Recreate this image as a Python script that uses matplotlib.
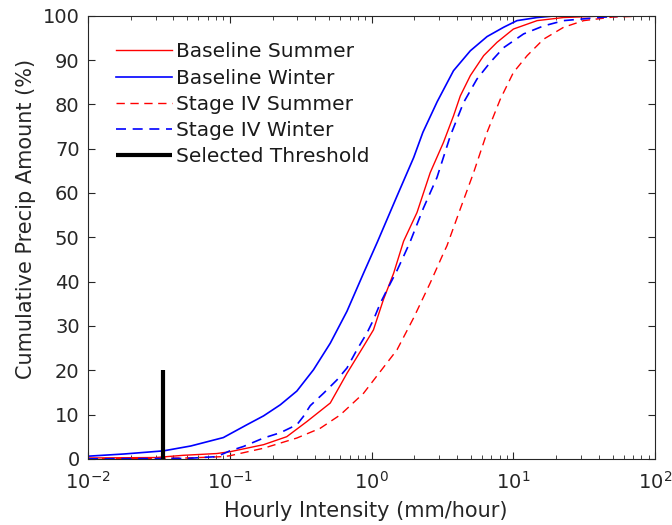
import matplotlib
matplotlib.use("Agg")
import matplotlib.pyplot as plt
import numpy as np
from matplotlib.ticker import LogLocator, MultipleLocator

# ---- data ----
# Baseline Winter
bw_x = [0.01, 0.018, 0.034, 0.053, 0.09, 0.1, 0.132, 0.173, 0.227, 0.297, 0.389,
        0.511, 0.67, 0.877, 1.1, 1.51, 1.98, 2.3, 2.9, 3.78, 4.97, 6.52, 8.53,
        10.6, 14.7, 20, 100]
bw_y = [0.6, 1.1, 1.8, 2.9, 4.8, 5.6, 7.7, 9.7, 12.2, 15.3, 20.1,
        26.1, 33.3, 41.9, 49.0, 59.3, 68.0, 73.7, 80.6, 87.6, 92.1, 95.3, 97.4,
        98.9, 99.6, 100, 100]

# Baseline Summer
bs_x = [0.01, 0.03, 0.047, 0.081, 0.1, 0.173, 0.252, 0.349, 0.511, 0.67, 0.877,
        1.03, 1.21, 1.43, 1.68, 2.09, 2.59, 3.21, 3.78, 4.22, 4.97, 6.17, 7.66,
        10.0, 14.7, 22.6, 40, 100]
bs_y = [0.2, 0.3, 0.8, 1.2, 1.6, 3.2, 5.0, 8.4, 12.6, 19.3, 25.4,
        29.1, 35.9, 41.9, 49.1, 55.6, 64.6, 71.4, 77.4, 81.9, 86.5, 91.0, 94.0,
        97.0, 98.9, 99.6, 99.9, 100]

# Stage IV Winter
sw_x = [0.01, 0.05, 0.081, 0.1, 0.125, 0.173, 0.227, 0.297, 0.329, 0.369, 0.458,
        0.569, 0.67, 0.787, 0.927, 1.031, 1.151, 1.282, 1.51, 1.68, 1.87, 2.32,
        2.89, 3.59, 4.45, 5.53, 6.87, 8.53, 11.8, 16.3, 22.6, 40, 60, 100]
sw_y = [0.0, 0.1, 0.5, 1.8, 2.8, 4.7, 5.9, 7.7, 9.5, 12.0, 14.8,
        17.8, 20.5, 24.6, 28.4, 31.4, 35.1, 38.1, 42.5, 45.7, 49.0, 56.6,
        63.5, 72.9, 80.4, 85.7, 89.5, 92.8, 95.9, 97.7, 98.9, 99.6, 100, 100]

# Stage IV Summer
ss_x = [0.01, 0.05, 0.09, 0.1, 0.173, 0.297, 0.434, 0.6, 0.877, 1.151, 1.51,
        1.977, 2.59, 3.21, 3.40, 4.22, 5.24, 6.52, 8.09, 10.0, 12.5, 16.3,
        22.6, 31.3, 50, 100]
ss_y = [0.0, 0.2, 0.5, 0.7, 2.4, 4.7, 6.9, 9.9, 14.8, 19.7, 24.6,
        31.8, 39.7, 46.4, 48.1, 56.4, 64.6, 73.7, 81.2, 87.2, 91.0, 94.7,
        97.4, 98.9, 99.7, 100]

thr_x = [0.0337, 0.0337]
thr_y = [0, 20]

labels = ["Baseline Summer", "Baseline Winter", "Stage IV Summer",
          "Stage IV Winter", "Selected Threshold"]

# ---- figure ----
plt.rcParams['font.family'] = ['DejaVu Sans']
fig = plt.figure(figsize=(6.72, 5.25), dpi=100)
ax = fig.add_axes([0.131, 0.126, 0.844, 0.844])
gray = '#262626'

ax.plot(bs_x, bs_y, color='red', lw=1.0, label=labels[0])
ax.plot(bw_x, bw_y, color='blue', lw=1.2, label=labels[1])
ax.plot(ss_x, ss_y, color='red', lw=1.0, ls=(0, (6, 4)), label=labels[2])
ax.plot(sw_x, sw_y, color='blue', lw=1.2, ls=(0, (6, 4)), label=labels[3])
ax.plot(thr_x, thr_y, color='black', lw=3.0, label=labels[4], solid_capstyle='butt')

ax.set_xscale('log')
ax.set_xlim(1e-2, 1e2)
ax.set_ylim(0, 100)
ax.yaxis.set_major_locator(MultipleLocator(10))
ax.xaxis.set_major_locator(LogLocator(base=10, numticks=10))
ax.xaxis.set_minor_locator(LogLocator(base=10, subs=np.arange(2, 10), numticks=20))

for s in ax.spines.values():
    s.set_color(gray)
    s.set_linewidth(0.8)
ax.tick_params(which='both', direction='in', top=True, right=True, colors=gray,
               labelsize=14, labelcolor=gray)
ax.tick_params(which='major', length=5, width=0.8)
ax.tick_params(which='minor', length=3, width=0.6)
ax.tick_params(axis='x', which='both', pad=9)
ax.tick_params(axis='y', which='both', pad=6)

ax.set_xlabel("Hourly Intensity (mm/hour)", fontsize=15, color=gray, va='top')
ax.set_ylabel("Cumulative Precip Amount (%)", fontsize=15, color=gray)
ax.xaxis.set_label_coords(0.49, -0.094)
ax.yaxis.set_label_coords(-0.092, 0.542)

leg = ax.legend(loc='upper left', frameon=False, fontsize=14.5, handlelength=2.75,
                labelspacing=0.36, handletextpad=0.2, borderaxespad=0.0,
                borderpad=0.0, bbox_to_anchor=(0.05, 0.94))
for t in leg.get_texts():
    t.set_color('#1a1a1a')

fig.savefig("out.png", dpi=100)
